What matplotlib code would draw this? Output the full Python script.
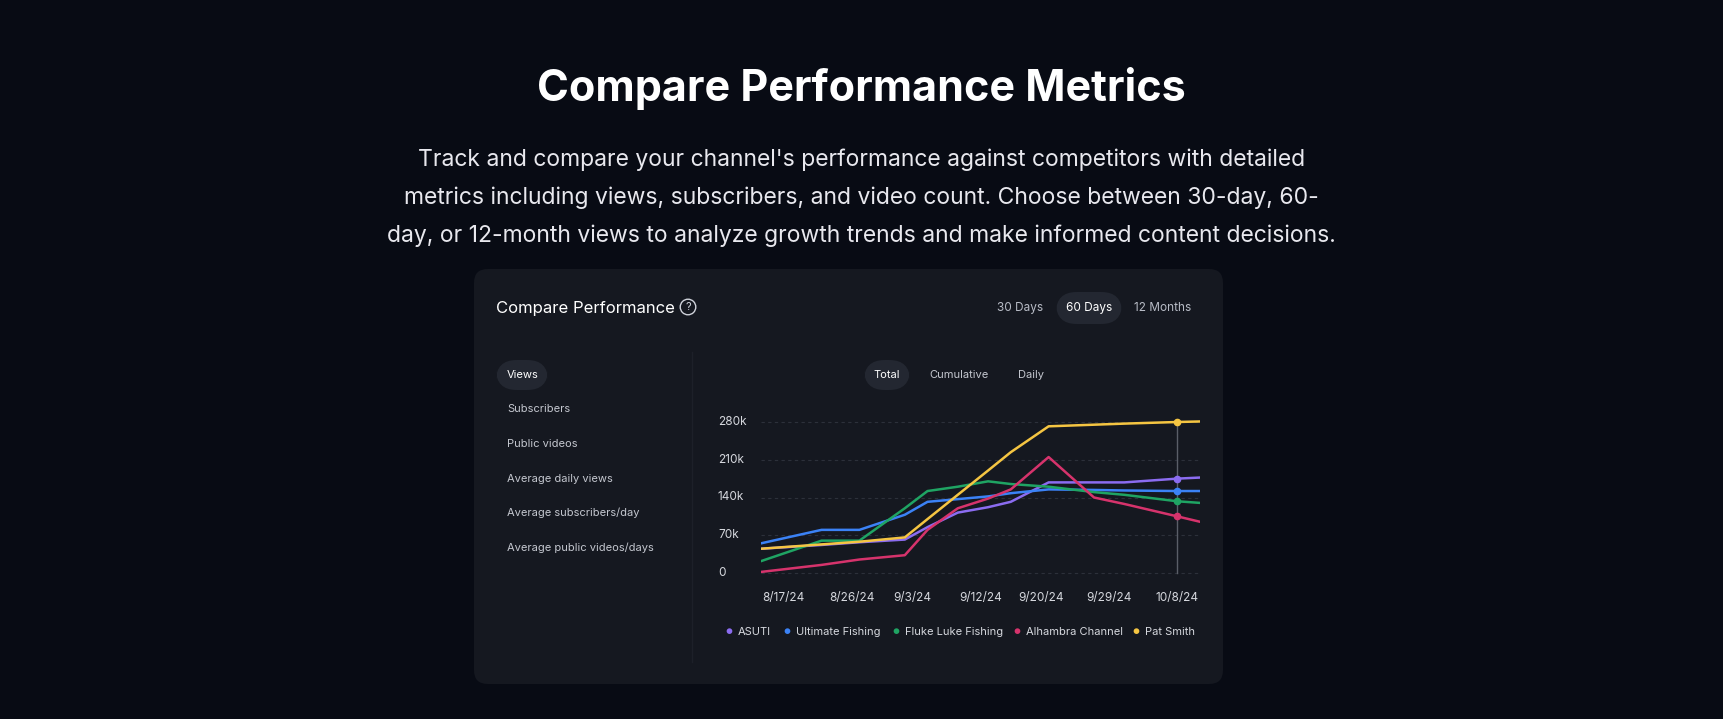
import matplotlib.pyplot as plt
from matplotlib.patches import FancyBboxPatch
from matplotlib.lines import Line2D

plt.rcParams["font.family"] = ["Inter", "DejaVu Sans"]

W, H = 1723, 719
BG = "#080b14"
CARD = "#151820"
PILL = "#232731"

# data: day offsets from 8/14/24, values in thousands of views
series_names = ["ASUTI", "Ultimate Fishing", "Fluke Luke Fishing", "Alhambra Channel", "Pat Smith"]
series_colors = ["#8b6cf0", "#3b82f6", "#1fa463", "#d6336c", "#f5c542"]
days = [0, 8, 13, 19, 22, 26, 30, 33, 38, 44, 48, 55, 58]
asuti = [45, 52, 57, 62, 85, 112, 122, 132, 168, 168, 168, 175, 177]
ultimate = [55, 80, 80, 108, 132, 137, 142, 148, 155, 154, 153, 152, 152]
fluke = [22, 60, 60, 120, 152, 160, 170, 165, 160, 150, 145, 133, 130]
alhambra = [2, 15, 25, 33, 80, 120, 138, 155, 215, 140, 128, 105, 95]
pat = [45, 53, 58, 66, 100, 145, 190, 224, 272, 275, 277, 280, 281]
values = [asuti, ultimate, fluke, alhambra, pat]
tick_days = [3, 12, 20, 29, 37, 46, 55]
tick_labels = ["8/17/24", "8/26/24", "9/3/24", "9/12/24", "9/20/24", "9/29/24", "10/8/24"]
y_ticks = [0, 70, 140, 210, 280]
y_labels = ["0", "70k", "140k", "210k", "280k"]
hover_day = 55

fig = plt.figure(figsize=(W / 100, H / 100), dpi=100, facecolor=BG)


def fx(x):
    return x / W


def fy(y):
    return 1 - y / H


def pill(x0, y0, w, h, color=PILL):
    fig.patches.append(FancyBboxPatch((fx(x0), fy(y0 + h)), w / W, h / H,
                                      boxstyle="round,pad=0,rounding_size=0.012",
                                      transform=fig.transFigure, fc=color, ec="none",
                                      mutation_aspect=W / H))


# page header
fig.text(0.5, fy(88), "Compare Performance Metrics", ha="center", va="center",
         color="white", fontsize=31, fontweight="bold")
body = ["Track and compare your channel's performance against competitors with detailed",
        "metrics including views, subscribers, and video count. Choose between 30-day, 60-",
        "day, or 12-month views to analyze growth trends and make informed content decisions."]
for i, line in enumerate(body):
    fig.text(0.5, fy(160 + i * 38), line, ha="center", va="center", color="#e8e8ee", fontsize=16.5)

# card
fig.patches.append(FancyBboxPatch((fx(474), fy(684)), 749 / W, 415 / H,
                                  boxstyle="round,pad=0,rounding_size=0.008",
                                  transform=fig.transFigure, fc=CARD, ec="none",
                                  mutation_aspect=W / H))
fig.text(fx(496), fy(308), "Compare Performance", ha="left", va="center", color="white", fontsize=12)
fig.text(fx(688), fy(307), "?", ha="center", va="center", color="#cfd2da", fontsize=8,
         bbox=dict(boxstyle="circle,pad=0.25", fc="none", ec="#cfd2da", lw=1))

pill(1056, 292, 66, 32)
for x, t, c in [(1020, "30 Days", "#b8bcc6"), (1089, "60 Days", "white"), (1163, "12 Months", "#b8bcc6")]:
    fig.text(fx(x), fy(308), t, ha="center", va="center", color=c, fontsize=8.5)

pill(496, 360, 52, 30)
menu = ["Views", "Subscribers", "Public videos", "Average daily views",
        "Average subscribers/day", "Average public videos/days"]
for i, t in enumerate(menu):
    fig.text(fx(507), fy(375 + i * 34.5), t, ha="left", va="center",
             color="white" if i == 0 else "#c4c7cf", fontsize=8)
fig.add_artist(Line2D([fx(692), fx(692)], [fy(352), fy(662)], color="#1d2029", lw=1))

pill(864, 360, 46, 30)
for x, t, c in [(887, "Total", "white"), (959, "Cumulative", "#c4c7cf"), (1031, "Daily", "#c4c7cf")]:
    fig.text(fx(x), fy(375), t, ha="center", va="center", color=c, fontsize=8)

# chart axes: day 0 at x=761, day 58 at x=1200; 0 at y=573, 280k at y=422
ppk = 151 / 280
ax_top = 422 - 12 * ppk
ax_bot = 573 + 5 * ppk
ax = fig.add_axes([fx(761), fy(ax_bot), 439 / W, (ax_bot - ax_top) / H])
ax.set_zorder(5)
ax.set_facecolor("none")
ax.set_xlim(0, 58)
ax.set_ylim(-5, 292)
for s in ax.spines.values():
    s.set_visible(False)
for y in y_ticks:
    ax.axhline(y, color="#2c303a", lw=0.8, ls=(0, (3, 3)), zorder=0)
ax.axvline(hover_day, ymin=5 / 297, ymax=285 / 297, color="#5a5e68", lw=1, zorder=1)
for name, col, vals in zip(series_names, series_colors, values):
    ax.plot(days, vals, color=col, lw=1.8, zorder=3)
    ax.plot([hover_day], [vals[days.index(hover_day)]], "o", color=col, ms=4.5, zorder=4)

ax.set_yticks([])
for y, lab in zip(y_ticks, y_labels):
    ax.text(-43 / 439, y, lab, transform=ax.get_yaxis_transform(), ha="left",
            va="center", color="#d6d8de", fontsize=8.5)
ax.set_xticks(tick_days)
ax.set_xticklabels(tick_labels, color="#d6d8de", fontsize=8.5)
ax.tick_params(axis="x", length=0, pad=12)

# legend
for x, name, col in zip([729, 787, 896, 1017, 1136], series_names, series_colors):
    fig.text(fx(x), fy(632), "\u25cf", ha="center", va="center", color=col, fontsize=5.5)
    fig.text(fx(x + 9), fy(632), name, ha="left", va="center", color="#d6d8de", fontsize=8)

fig.savefig("out.png", dpi=100, facecolor=BG)
